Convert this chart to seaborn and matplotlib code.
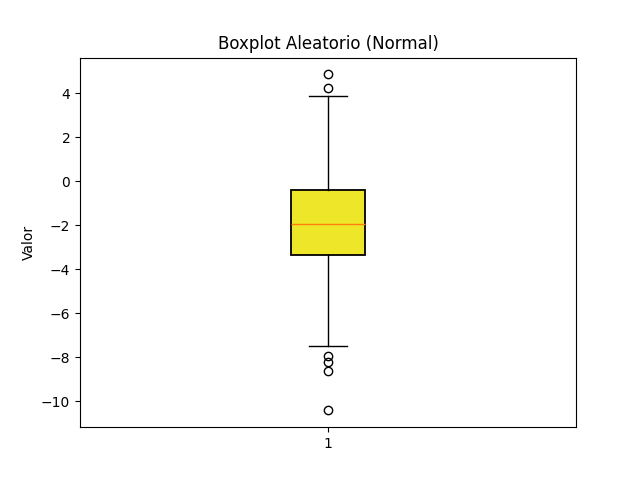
import matplotlib
matplotlib.use("Agg")
import matplotlib.pyplot as plt
import seaborn as sns

sns.reset_orig()

# Box statistics
label = "1"
q1 = -3.36
median = -1.95
q3 = -0.41
whisker_low = -7.5
whisker_high = 3.86
fliers = [4.86, 4.23, -7.95, -8.2, -8.62, -10.41]

stats = [{
    "label": label,
    "q1": q1, "med": median, "q3": q3,
    "whislo": whisker_low, "whishi": whisker_high,
    "fliers": fliers,
}]

fig, ax = plt.subplots(figsize=(6.4, 4.8), dpi=100)
ax.bxp(stats, patch_artist=True,
       boxprops=dict(facecolor="#eee629", edgecolor="black", linewidth=1.3),
       medianprops=dict(color="#ff7f0e"),
       flierprops=dict(marker="o", markerfacecolor="none", markeredgecolor="black"))
ax.set_title("Boxplot Aleatorio (Normal)")
ax.set_ylabel("Valor")
fig.savefig("out.png")
